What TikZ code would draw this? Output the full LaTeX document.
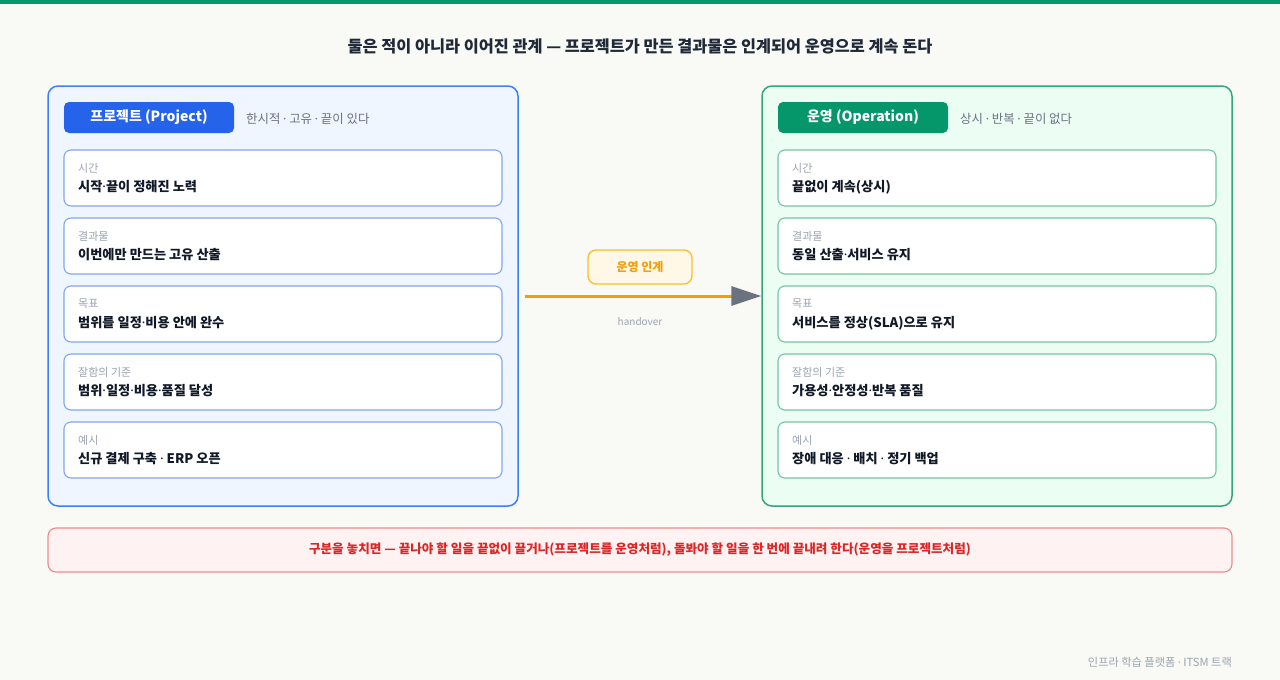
\documentclass[tikz,border=0pt]{standalone}
\usepackage{fontspec}
\setmainfont{Noto Sans CJK KR}
\newfontfamily\latinfnt{Noto Sans}
\newcommand\mdt{{\latinfnt ·}}
\usetikzlibrary{arrows.meta}
\definecolor{bgc}{HTML}{F9FAF6}
\definecolor{topg}{HTML}{07966A}
\definecolor{titlec}{HTML}{1F2937}
\definecolor{bluef}{HTML}{EFF6FF}
\definecolor{blued}{HTML}{3B82F6}
\definecolor{bluecard}{HTML}{7FA6F5}
\definecolor{blueb}{HTML}{2563EB}
\definecolor{greenf}{HTML}{ECFDF3}
\definecolor{greend}{HTML}{34A57D}
\definecolor{greencard}{HTML}{6FC6A3}
\definecolor{greenb}{HTML}{059669}
\definecolor{subc}{HTML}{6B7280}
\definecolor{labc}{HTML}{9CA3AF}
\definecolor{mainc}{HTML}{111827}
\definecolor{orangec}{HTML}{F59E0B}
\definecolor{orangef}{HTML}{FFF8E6}
\definecolor{oranged}{HTML}{FBBF24}
\definecolor{arrowc}{HTML}{6B7280}
\definecolor{redf}{HTML}{FEF2F2}
\definecolor{redd}{HTML}{EF8A8A}
\definecolor{redt}{HTML}{DC2626}
\begin{document}
\begin{tikzpicture}[x=1pt,y=-1pt,
  panel/.style={draw, line width=1.5pt, rounded corners=10pt, minimum width=470pt, minimum height=420pt, inner sep=0pt},
  badge/.style={rounded corners=5pt, minimum width=170pt, minimum height=31pt, inner sep=0pt, text=white, font=\fontsize{14}{16}\selectfont\bfseries},
  sub/.style={anchor=west, text=subc, font=\fontsize{12.4}{14}\selectfont, inner sep=0pt},
  card/.style={draw, fill=white, line width=1.1pt, rounded corners=7pt, minimum width=438pt, minimum height=56pt, inner sep=0pt},
  lab/.style={anchor=west, text=labc, font=\fontsize{11}{13}\selectfont, inner sep=0pt},
  main/.style={anchor=west, text=mainc, font=\fontsize{13.2}{15}\selectfont\bfseries, inner sep=0pt}
]
\useasboundingbox (0,0) rectangle (1280,680);
\fill[bgc] (0,0) rectangle (1280,680);
\fill[topg] (0,0) rectangle (1280,4);
\node[text=titlec, font=\fontsize{16.3}{19}\selectfont\bfseries, inner sep=0pt] (title) at (640,46) {둘은 적이 아니라 이어진 관계 — 프로젝트가 만든 결과물은 인계되어 운영으로 계속 돈다};

% left panel
\node[panel, draw=blued, fill=bluef] (L) at (283,296) {};
\node[badge, fill=blueb] (Lb) at (149,117.5) {프로젝트 (Project)};
\node[sub] (Ls) at (246,119) {한시적 \mdt{} 고유 \mdt{} 끝이 있다};
% right panel
\node[panel, draw=greend, fill=greenf] (R) at (997,296) {};
\node[badge, fill=greenb] (Rb) at (863,117.5) {운영 (Operation)};
\node[sub] (Rs) at (960,119) {상시 \mdt{} 반복 \mdt{} 끝이 없다};

% cards
\foreach \i/\la/\ma/\mb in {0/시간/시작\mdt{}끝이 정해진 노력/끝없이 계속(상시),
                            1/결과물/이번에만 만드는 고유 산출/동일 산출\mdt{}서비스 유지,
                            2/목표/범위를 일정\mdt{}비용 안에 완수/서비스를 정상(SLA)으로 유지,
                            3/잘함의 기준/범위\mdt{}일정\mdt{}비용\mdt{}품질 달성/가용성\mdt{}안정성\mdt{}반복 품질,
                            4/예시/신규 결제 구축 \mdt{} ERP 오픈/장애 대응 \mdt{} 배치 \mdt{} 정기 백업}{
  \pgfmathsetmacro{\cy}{178+68*\i}
  \node[card, draw=bluecard] (Lc\i) at (283,\cy) {};
  \node[lab] (Lcl\i) at (78,\cy-10) {\la};
  \node[main] (Lcm\i) at (78,\cy+9) {\ma};
  \node[card, draw=greencard] (Rc\i) at (997,\cy) {};
  \node[lab] (Rcl\i) at (792,\cy-10) {\la};
  \node[main] (Rcm\i) at (792,\cy+9) {\mb};
}

% handover arrow
\draw[orangec, line width=3pt, shorten <=6pt,
  -{Triangle[length=30pt,width=19pt,fill=arrowc,color=arrowc]}] (L.east) -- (R.west);
\node[draw=oranged, fill=orangef, line width=1.3pt, rounded corners=8pt, minimum width=104pt, minimum height=34pt, inner sep=0pt, text=orangec, font=\fontsize{12}{14}\selectfont\bfseries] (ho) at (640,267) {운영 인계};
\node[text=labc, font=\fontsize{10}{12}\selectfont, inner sep=0pt] (hot) at (640,322) {handover};

% bottom note
\node[draw=redd, fill=redf, line width=1.1pt, rounded corners=8pt, minimum width=1184pt, minimum height=44pt, inner sep=0pt, text=redt, font=\fontsize{12.6}{14}\selectfont\bfseries] (note) at (640,550) {구분을 놓치면 — 끝나야 할 일을 끝없이 끌거나(프로젝트를 운영처럼), 돌봐야 할 일을 한 번에 끝내려 한다(운영을 프로젝트처럼)};

\node[anchor=east, text=labc, font=\fontsize{11.2}{12}\selectfont, inner sep=0pt] (foot) at (1232,662) {인프라 학습 플랫폼 \mdt{} ITSM 트랙};
\end{tikzpicture}
\end{document}
